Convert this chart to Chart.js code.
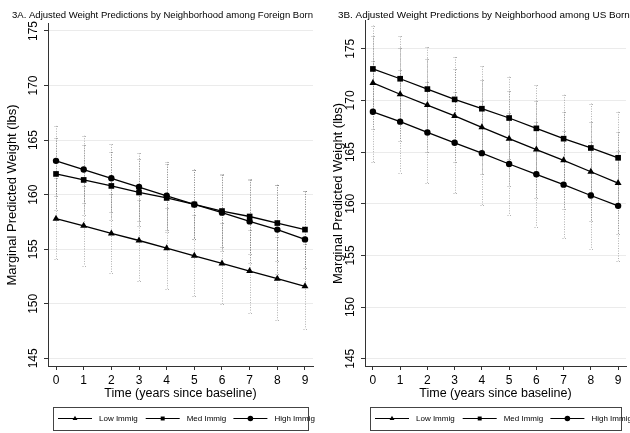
<!DOCTYPE html>
<html>
<head>
<meta charset="utf-8">
<script src="https://cdn.jsdelivr.net/npm/chart.js"></script>
<style>
html, body { margin: 0; padding: 0; background: #fff; overflow: hidden; width: 630px; height: 433px; }
.panel { position: absolute; top: 0; }
#boxA { left: 0; }
#boxB { left: 320px; }
</style>
</head>
<body>
<div class="panel" id="boxA"><canvas id="chartA" width="325" height="433"></canvas></div>
<div class="panel" id="boxB"><canvas id="chartB" width="310" height="433"></canvas></div>
<script>
const years = [0, 1, 2, 3, 4, 5, 6, 7, 8, 9];
const yTicks = [145, 150, 155, 160, 165, 170, 175];
const seriesNames = ['Low Immig', 'Med Immig', 'High Immig'];

// 3A foreign born
const lowFB = [157.8, 157.15, 156.45, 155.8, 155.1, 154.4, 153.7, 153.0, 152.3, 151.6];
const medFB = [161.9, 161.35, 160.8, 160.2, 159.7, 159.1, 158.5, 158.0, 157.4, 156.8];
const highFB = [163.1, 162.3, 161.5, 160.7, 159.9, 159.1, 158.35, 157.55, 156.8, 155.9];
const lowFBErr = [3.7, 3.65, 3.65, 3.7, 3.7, 3.7, 3.7, 3.8, 3.8, 3.9];
const medFBErr = [3.3, 3.2, 3.1, 3.1, 3.1, 3.2, 3.3, 3.4, 3.5, 3.5];
const highFBErr = [3.2, 3.1, 3.1, 3.1, 3.1, 3.2, 3.5, 3.8, 4.1, 4.4];

// 3B US born
const lowUS = [171.7, 170.6, 169.55, 168.5, 167.4, 166.3, 165.25, 164.2, 163.1, 162.0];
const medUS = [173.05, 172.1, 171.1, 170.1, 169.2, 168.3, 167.3, 166.3, 165.4, 164.45];
const highUS = [168.9, 167.95, 166.9, 165.9, 164.9, 163.85, 162.85, 161.85, 160.8, 159.8];
const lowUSErr = [4.5, 4.5, 4.5, 4.5, 4.55, 4.6, 4.65, 4.7, 4.8, 4.9];
const medUSErr = [4.2, 4.1, 4.05, 4.1, 4.1, 4.0, 4.15, 4.25, 4.3, 4.45];
const highUSErr = [4.9, 4.95, 4.9, 4.9, 5.0, 4.95, 5.05, 5.15, 5.2, 5.35];

const FONT = "'Liberation Sans', Arial, Helvetica, sans-serif";
const markers = ['triangle', 'rect', 'circle'];
const markerSize = [4, 4, 3.2];

const errorBars = {
    id: 'errorBars',
    beforeDatasetsDraw(chart) {
        const { ctx, chartArea, scales: { x, y } } = chart;
        ctx.save();
        ctx.beginPath();
        ctx.rect(chartArea.left, chartArea.top, chartArea.right - chartArea.left, chartArea.bottom - chartArea.top);
        ctx.clip();
        ctx.strokeStyle = 'rgba(100,100,100,0.5)';
        ctx.lineWidth = 1;
        ctx.setLineDash([1, 1.5]);
        chart.data.datasets.forEach(ds => {
            ds.errors.forEach((e, i) => {
                const px = Math.round(x.getPixelForValue(ds.data[i].x)) + 0.5;
                const hi = y.getPixelForValue(ds.data[i].y + e);
                const lo = y.getPixelForValue(ds.data[i].y - e);
                ctx.beginPath();
                ctx.moveTo(px, hi);
                ctx.lineTo(px, lo);
                ctx.moveTo(px - 2, Math.round(hi) + 0.5);
                ctx.lineTo(px + 3, Math.round(hi) + 0.5);
                ctx.moveTo(px - 2, Math.round(lo) + 0.5);
                ctx.lineTo(px + 3, Math.round(lo) + 0.5);
                ctx.stroke();
            });
        });
        ctx.restore();
    }
};

const boxLegend = {
    id: 'boxLegend',
    afterDraw(chart) {
        const { ctx, chartArea } = chart;
        const left = chartArea.left + 5;
        const right = chartArea.right - 5;
        const top = chart.height - 26;
        const bottom = chart.height - 3;
        const cy = (top + bottom) / 2;
        ctx.save();
        ctx.strokeStyle = '#444';
        ctx.lineWidth = 1;
        ctx.strokeRect(Math.round(left) + 0.5, top + 0.5, Math.round(right - left), bottom - top);
        ctx.font = '8px ' + FONT;
        ctx.textBaseline = 'middle';
        ctx.textAlign = 'left';
        chart.data.datasets.forEach((ds, i) => {
            const x0 = left + 5 + i * 87.7;
            ctx.strokeStyle = '#000';
            ctx.lineWidth = 1.2;
            ctx.beginPath();
            ctx.moveTo(x0, cy);
            ctx.lineTo(x0 + 34, cy);
            ctx.stroke();
            ctx.fillStyle = '#000';
            Chart.helpers.drawPoint(ctx, { pointStyle: ds.pointStyle, radius: 2.8, rotation: 0, borderWidth: 0 }, x0 + 17, cy);
            ctx.fillStyle = '#000';
            ctx.fillText(ds.label, x0 + 41, cy + 0.5);
        });
        ctx.restore();
    }
};

function makePanel(canvasId, titleText, values, errs, yMax, opts) {
    const datasets = values.map((vals, i) => ({
        label: seriesNames[i],
        data: years.map((x, j) => ({ x: x, y: vals[j] })),
        errors: errs[i],
        borderColor: '#000',
        backgroundColor: '#000',
        borderWidth: 1.3,
        pointStyle: markers[i],
        pointRadius: markerSize[i],
        pointBorderWidth: 0,
        tension: 0
    }));
    return new Chart(document.getElementById(canvasId).getContext('2d'), {
        type: 'line',
        data: { datasets: datasets },
        options: {
            responsive: false,
            animation: false,
            devicePixelRatio: 1,
            layout: { padding: { left: opts.padLeft, right: opts.padRight, top: 0, bottom: 30 } },
            plugins: {
                legend: { display: false },
                tooltip: { enabled: false },
                title: {
                    display: true,
                    text: titleText,
                    align: 'start',
                    color: '#000',
                    font: { family: FONT, size: 9.9, weight: 'normal' },
                    padding: { top: 9, bottom: opts.titleGap }
                }
            },
            scales: {
                x: {
                    type: 'linear',
                    min: -0.29,
                    max: 9.29,
                    afterBuildTicks: s => { s.ticks = years.map(v => ({ value: v })); },
                    afterFit: s => { s.height = 37; },
                    ticks: { color: '#000', font: { family: FONT, size: 12 }, padding: 3 },
                    grid: { drawOnChartArea: false, tickLength: 4, tickColor: '#333' },
                    border: { color: '#333', width: 1 },
                    title: {
                        display: true,
                        text: 'Time (years since baseline)',
                        color: '#000',
                        font: { family: FONT, size: 12.5 },
                        padding: { top: 0, bottom: 2 }
                    }
                },
                y: {
                    type: 'linear',
                    min: 144.3,
                    max: yMax,
                    afterBuildTicks: s => { s.ticks = yTicks.map(v => ({ value: v })); },
                    afterFit: s => { s.width = opts.yWidth; },
                    ticks: { color: '#000', font: { family: FONT, size: 12 }, minRotation: 90, maxRotation: 90, crossAlign: 'center', padding: 0 },
                    grid: { color: '#ebebeb', tickLength: 4, tickColor: '#333' },
                    border: { color: '#333', width: 1 },
                    title: {
                        display: true,
                        text: 'Marginal Predicted Weight (lbs)',
                        color: '#000',
                        font: { family: FONT, size: 13 },
                        padding: { top: opts.yTitleShift, bottom: 0 }
                    }
                }
            }
        },
        plugins: [errorBars, boxLegend]
    });
}

makePanel('chartA', '3A. Adjusted Weight Predictions by Neighborhood among Foreign Born',
    [lowFB, medFB, highFB], [lowFBErr, medFBErr, highFBErr], 175.65,
    { padLeft: 12, padRight: 12, yWidth: 36, titleGap: 3, yTitleShift: -7 });

makePanel('chartB', '3B. Adjusted Weight Predictions by Neighborhood among US Born',
    [lowUS, medUS, highUS], [lowUSErr, medUSErr, highUSErr], 177.7,
    { padLeft: 18, padRight: 0, yWidth: 27, titleGap: 0, yTitleShift: -7.8 });
</script>
</body>
</html>
